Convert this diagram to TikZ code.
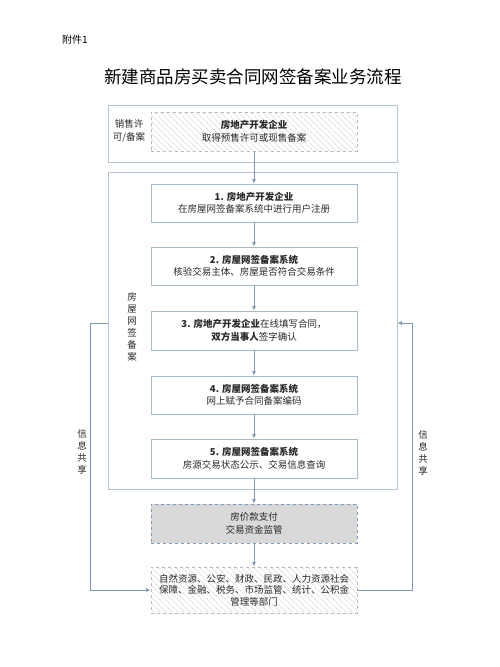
\documentclass[tikz,border=0pt]{standalone}
\usepackage{fontspec}
\setmainfont{Noto Sans CJK SC}
\usetikzlibrary{patterns.meta,arrows.meta}
\definecolor{boxc}{RGB}{168,186,206}
\definecolor{outc}{RGB}{180,196,212}
\definecolor{arrc}{RGB}{125,155,185}
\definecolor{dashc}{RGB}{185,185,185}
\definecolor{grayfill}{RGB}{217,217,217}
\definecolor{txtc}{RGB}{40,40,40}
\begin{document}
\begin{tikzpicture}[x=1pt,y=-1pt,
  txt/.style={font=\fontsize{9.5}{12.5}\selectfont, text=txtc, align=center},
  box/.style={draw=boxc, line width=0.8pt, minimum width=206pt, minimum height=38pt, inner sep=0pt, txt},
  outer/.style={draw=outc, line width=0.8pt, inner sep=0pt},
  flow/.style={draw=arrc, line width=0.8pt, -{Latex[length=4.5pt,width=4pt]}},
  hatchbox/.style={box, draw=dashc, dashed, pattern={Lines[angle=-45,distance=4pt,line width=0.5pt]}, pattern color=black!20},
  graybox/.style={box, draw=arrc, dashed, fill=grayfill},
  vlabel/.style={font=\fontsize{9.5}{12}\selectfont, text=txtc, align=center, inner sep=0pt}]
\useasboundingbox (0,0) rectangle (500,667);
\node[font=\fontsize{10}{12}\selectfont, text=black, anchor=west, inner sep=0pt] (fj) at (62,40) {附件1};
\node[font=\fontsize{17.5}{20}\selectfont, text=black, inner sep=0pt] (title) at (253,77) {新建商品房买卖合同网签备案业务流程};
% outer containers
\node[outer, minimum width=289pt, minimum height=57pt] (o1) at (252.5,133.5) {};
\node[outer, minimum width=289pt, minimum height=317pt] (o2) at (252.5,330.5) {};
\node[txt, inner sep=0pt] (l1) at (129,131) {销售许\\可/备案};
\node[vlabel] (l2) at (132,327) {房\\屋\\网\\签\\备\\案};
% boxes
\node[hatchbox, minimum height=39pt] (b0) at (254,131.5) {{\bfseries 房地产开发企业}\\取得预售许可或现售备案};
\node[box] (b1) at (254,203) {{\bfseries 1. 房地产开发企业}\\在房屋网签备案系统中进行用户注册};
\node[box] (b2) at (254,266) {{\bfseries 2. 房屋网签备案系统}\\核验交易主体、房屋是否符合交易条件};
\node[box, minimum height=39pt] (b3) at (254,330.5) {{\bfseries 3. 房地产开发企业}在线填写合同，\\{\bfseries 双方当事人}签字确认};
\node[box] (b4) at (254,395) {{\bfseries 4. 房屋网签备案系统}\\网上赋予合同备案编码};
\node[box, minimum height=39pt] (b5) at (254,458.5) {{\bfseries 5. 房屋网签备案系统}\\房源交易状态公示、交易信息查询};
\node[graybox, minimum height=39pt] (b6) at (254,523.5) {房价款支付\\交易资金监管};
\node[hatchbox, minimum height=46pt, font=\fontsize{9.5}{11.5}\selectfont] (b7) at (254,590) {自然资源、公安、财政、民政、人力资源社会\\保障、金融、税务、市场监管、统计、公积金\\管理等部门};
% flow arrows
\draw[flow] (b0) -- (b1);
\draw[flow] (b1) -- (b2);
\draw[flow] (b2) -- (b3);
\draw[flow] (b3) -- (b4);
\draw[flow] (b4) -- (b5);
\draw[flow] (b5) -- (b6);
\draw[flow] (b6) -- (b7);
% information sharing
\draw[flow] ([yshift=7.5pt]o2.west) -- ++(-17,0) |- (b7.west);
\draw[flow] (b7.east) -- ++(55,0) |- ([yshift=7.5pt]o2.east);
\node[vlabel] (s1) at (82,452) {信\\息\\共\\享};
\node[vlabel] (s2) at (423,453) {信\\息\\共\\享};
\end{tikzpicture}
\end{document}
